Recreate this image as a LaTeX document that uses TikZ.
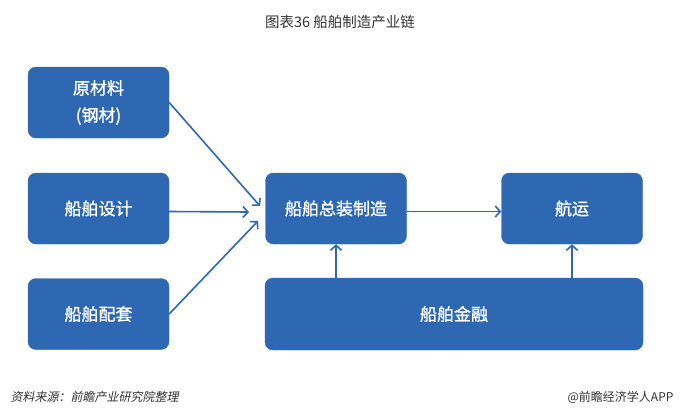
\documentclass[tikz,border=0pt]{standalone}
\usepackage{fontspec}
\setmainfont{Noto Sans CJK SC}
\newfontfamily\cjkslant[FakeSlant=0.2]{Noto Sans CJK SC}
\newfontfamily\cjkheavy[FakeBold=1.2]{Noto Sans CJK SC}
\usepackage{xcolor}
\usetikzlibrary{arrows.meta}
\definecolor{shipblue}{RGB}{46,103,178}
\definecolor{capgray}{RGB}{51,51,51}
\tikzset{>={Straight Barb[length=5pt,width=11pt]}}
\tikzstyle{blk} = [rectangle, rounded corners=8pt, fill=shipblue, draw=shipblue, text=white, align=center, inner sep=0pt, minimum width=141pt, minimum height=71pt, font=\cjkheavy\fontsize{17}{27}\selectfont]
\tikzstyle{lnk} = [->, draw=shipblue, line width=1.6pt]

\begin{document}
\begin{tikzpicture}[x=1pt, y=-1pt]
\fill [white] (0,0) rectangle (680,418);
\useasboundingbox (0,0) rectangle (680,418);
\node [text=capgray, font=\fontsize{14.5}{16}\selectfont] (ttl) at (340,22) {图表36 船舶制造产业链};
\node [blk] (RM) at (98.5,102.5) {原材料\\(钢材)};
\node [blk] (SD) at (98.5,208.5) {船舶设计};
\node [blk] (SP) at (98.5,314) {船舶配套};
\node [blk] (GA) at (336,208.5) {船舶总装制造};
\node [blk] (SH) at (572,208.5) {航运};
\node [blk, minimum width=378pt, minimum height=72pt] (FN) at (454,314) {船舶金融};
\coordinate (t1) at (260,206);
\coordinate (t2) at (249,212);
\coordinate (t3) at (258,221);
\draw [lnk] (RM.east) to (t1);
\draw [lnk] ([yshift=-3pt]SD.east) to (t2);
\draw [lnk] (SP.east) to (t3);
\draw [lnk] ([yshift=-3pt]GA.east) to ([yshift=-3pt]SH.west);
\draw [lnk] (FN.north -| GA.south) to (GA.south);
\draw [lnk] (FN.north -| SH.south) to (SH.south);
\node [anchor=west, text=capgray, font=\fontsize{12}{14}\selectfont] (src) at (7,397) {\cjkslant 资料来源：前瞻产业研究院整理};
\node [anchor=east, text=capgray, font=\fontsize{12}{14}\selectfont] (app) at (677,397) {@前瞻经济学人APP};
\end{tikzpicture}
\end{document}
